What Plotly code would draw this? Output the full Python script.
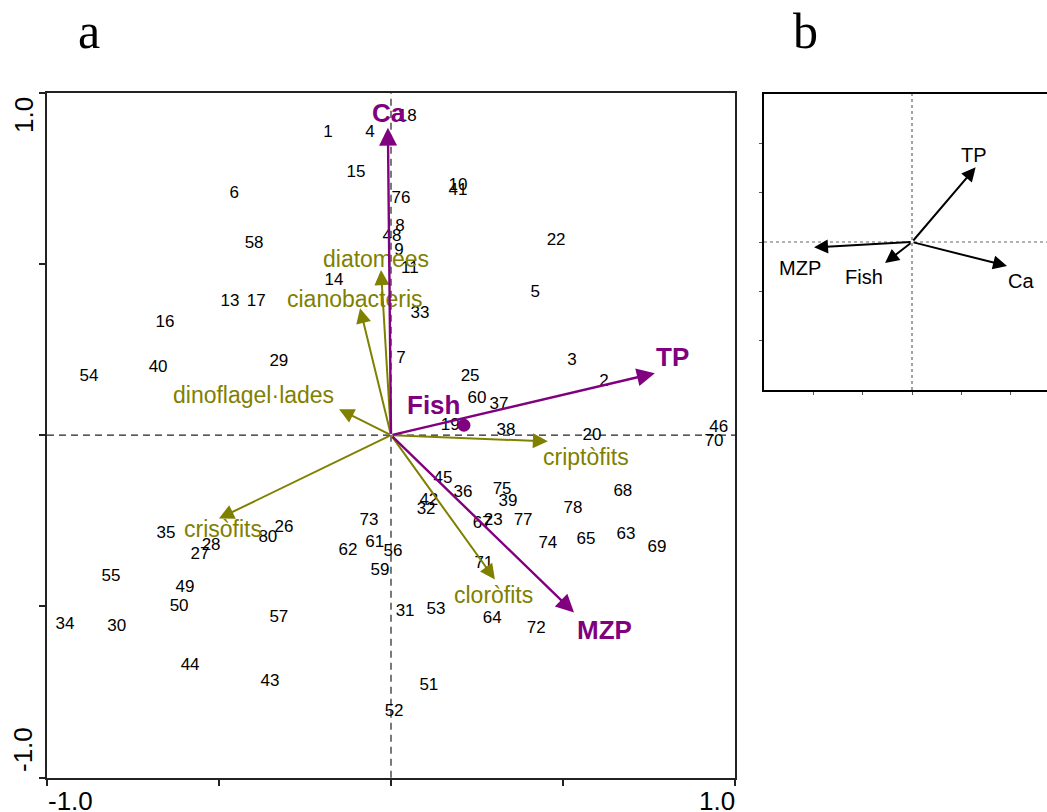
import plotly.graph_objects as go

# ---------------- data (panel a) ----------------
site_labels = ["24", "1", "4", "18", "15", "6", "76", "10", "41", "8", "48", "9", "58", "22",
               "11", "14", "5", "13", "17", "33", "16", "7", "29", "3", "54", "40", "25", "2",
               "60", "37", "19", "38", "20", "46", "70", "45", "36", "75", "39", "68", "42",
               "32", "78", "67", "23", "77", "73", "74", "65", "63", "69", "35", "26", "80",
               "28", "27", "61", "62", "56", "59", "71", "55", "49", "50", "31", "53", "64",
               "72", "34", "30", "57", "44", "43", "51", "52"]
site_x = [-0.788, -0.183, -0.061, 0.047, -0.102, -0.456, 0.029, 0.195, 0.195, 0.026, 0.003,
          0.023, -0.398, 0.480, 0.055, -0.166, 0.419, -0.468, -0.392, 0.084, -0.657, 0.029,
          -0.326, 0.526, -0.878, -0.677, 0.230, 0.619, 0.250, 0.314, 0.172, 0.334, 0.584,
          0.953, 0.939, 0.151, 0.209, 0.323, 0.340, 0.674, 0.110, 0.102, 0.529, 0.265,
          0.297, 0.384, -0.064, 0.456, 0.567, 0.683, 0.773, -0.654, -0.311, -0.358, -0.523,
          -0.555, -0.047, -0.125, 0.006, -0.032, 0.270, -0.814, -0.599, -0.616, 0.041,
          0.131, 0.294, 0.422, -0.948, -0.797, -0.326, -0.584, -0.352, 0.110, 0.009]
site_y = [1.006, 0.883, 0.883, 0.930, 0.766, 0.705, 0.690, 0.728, 0.713, 0.608, 0.579,
          0.538, 0.558, 0.567, 0.485, 0.450, 0.415, 0.389, 0.389, 0.354, 0.327, 0.222,
          0.213, 0.216, 0.170, 0.196, 0.170, 0.155, 0.105, 0.088, 0.029, 0.012, -0.003,
          0.023, -0.018, -0.126, -0.167, -0.158, -0.193, -0.164, -0.190, -0.219, -0.216,
          -0.260, -0.251, -0.251, -0.251, -0.316, -0.304, -0.292, -0.330, -0.287, -0.269,
          -0.298, -0.322, -0.348, -0.313, -0.336, -0.339, -0.395, -0.374, -0.412, -0.444,
          -0.500, -0.515, -0.509, -0.535, -0.564, -0.553, -0.558, -0.532, -0.673, -0.719,
          -0.731, -0.807]

env_names = ["Ca", "TP", "MZP"]
env_x = [-0.009, 0.767, 0.532]
env_y = [0.898, 0.181, -0.518]

fish_name = "Fish"
fish_x = [0.212]
fish_y = [0.029]

group_names = ["diatomees", "cianobacteris", "dinoflagel·lades", "criptòfits", "crisòfits", "cloròfits"]
group_x = [-0.029, -0.090, -0.151, 0.456, -0.500, 0.302]
group_y = [0.482, 0.371, 0.076, -0.018, -0.243, -0.421]

# ---------------- data (panel b) ----------------
b_names = ["TP", "MZP", "Fish", "Ca"]
b_x = [0.430, -0.662, -0.182, 0.642]
b_y = [0.505, -0.036, -0.142, -0.162]

# ---------------- styles ----------------
PURPLE = "#800080"
OLIVE = "#808000"
SANS = "Liberation Sans, Arial, sans-serif"
SERIF = "Liberation Serif, Times New Roman, serif"
W, H = 1047, 812

env_shift = {"Ca": (1, 15), "TP": (18, 16), "MZP": (30, -17)}
fish_shift = (-30, 20)
group_shift = {"diatomees": (-5, 11), "cianobacteris": (-5, 9), "dinoflagel·lades": (-86, 14),
               "criptòfits": (38, -16), "crisòfits": (4, -11), "cloròfits": (-1, -16)}
b_shift = {"TP": (-2, 12), "MZP": (-14, -21), "Fish": (-21, -14), "Ca": (14, -15)}

fig = go.Figure()

# site numbers
fig.add_trace(go.Scatter(x=site_x, y=site_y, mode="text", text=site_labels,
                         textposition="middle center",
                         textfont=dict(family=SANS, size=17, color="black"),
                         cliponaxis=False, hoverinfo="skip", showlegend=False,
                         xaxis="x", yaxis="y"))
# fish dot
fig.add_trace(go.Scatter(x=fish_x, y=fish_y, mode="markers",
                         marker=dict(size=13, color=PURPLE),
                         hoverinfo="skip", showlegend=False, xaxis="x", yaxis="y"))
# invisible helper trace for panel b axes
fig.add_trace(go.Scatter(x=b_x, y=b_y, mode="markers", marker=dict(size=1, opacity=0),
                         hoverinfo="skip", showlegend=False, xaxis="x2", yaxis="y2"))

ann = []
# group arrows (olive)
for n, gx, gy in zip(group_names, group_x, group_y):
    ann.append(dict(x=gx, y=gy, ax=0, ay=0, xref="x", yref="y", axref="x", ayref="y",
                    text="", showarrow=True, arrowhead=2, arrowsize=1.5, arrowwidth=2,
                    arrowcolor=OLIVE))
    sx, sy = group_shift[n]
    ann.append(dict(x=gx, y=gy, xref="x", yref="y", text=n, showarrow=False,
                    xanchor="center", yanchor="middle",
                    xshift=sx, yshift=sy, font=dict(family=SANS, size=23, color=OLIVE)))
# env arrows (purple)
for n, ex, ey in zip(env_names, env_x, env_y):
    ann.append(dict(x=ex, y=ey, ax=0, ay=0, xref="x", yref="y", axref="x", ayref="y",
                    text="", showarrow=True, arrowhead=2, arrowsize=1.5, arrowwidth=2.4,
                    arrowcolor=PURPLE))
    sx, sy = env_shift[n]
    ann.append(dict(x=ex, y=ey, xref="x", yref="y", text="<b>%s</b>" % n, showarrow=False,
                    xanchor="center", yanchor="middle",
                    xshift=sx, yshift=sy, font=dict(family=SANS, size=26, color=PURPLE)))
# fish label
ann.append(dict(x=fish_x[0], y=fish_y[0], xref="x", yref="y", text="<b>%s</b>" % fish_name,
                showarrow=False, xanchor="center", yanchor="middle",
                xshift=fish_shift[0], yshift=fish_shift[1],
                font=dict(family=SANS, size=26, color=PURPLE)))
# panel b arrows
for n, bx, by in zip(b_names, b_x, b_y):
    ann.append(dict(x=bx, y=by, ax=0, ay=0, xref="x2", yref="y2", axref="x2", ayref="y2",
                    text="", showarrow=True, arrowhead=2, arrowsize=1.4, arrowwidth=2,
                    arrowcolor="black"))
    sx, sy = b_shift[n]
    ann.append(dict(x=bx, y=by, xref="x2", yref="y2", text=n, showarrow=False,
                    xanchor="center", yanchor="middle",
                    xshift=sx, yshift=sy, font=dict(family=SANS, size=20, color="black")))

# axis end labels (panel a)
lab_font = dict(family=SANS, size=26, color="black")
def paper_text(px, py, txt, font, angle=0):
    return dict(x=px / W, y=1 - py / H, xref="paper", yref="paper", text=txt,
                textangle=angle, showarrow=False, xanchor="center", yanchor="middle",
                font=font)

ann.append(paper_text(24, 115, "1.0", lab_font, -90))
ann.append(paper_text(23, 750, "-1.0", lab_font, -90))
ann.append(paper_text(70, 801, "-1.0", lab_font))
ann.append(paper_text(717, 801, "1.0", lab_font))
# panel titles
title_font = dict(family=SERIF, size=50, color="black")
ann.append(paper_text(89, 31, "a", title_font))
ann.append(paper_text(805, 31, "b", title_font))

shapes = [
    dict(type="line", xref="x", yref="y domain", x0=0, x1=0, y0=0, y1=1,
         line=dict(color="#222222", width=1.2, dash="7px,5px"), layer="below"),
    dict(type="line", xref="x domain", yref="y", x0=0, x1=1, y0=0, y1=0,
         line=dict(color="#222222", width=1.2, dash="7px,5px"), layer="below"),
    dict(type="line", xref="x2", yref="y2 domain", x0=0, x1=0, y0=0, y1=1,
         line=dict(color="#666666", width=1.2, dash="dot"), layer="below"),
    dict(type="line", xref="x2 domain", yref="y2", x0=0, x1=1, y0=0, y1=0,
         line=dict(color="#666666", width=1.2, dash="dot"), layer="below"),
]

fig.update_layout(
    width=W, height=H, margin=dict(l=0, r=0, t=0, b=0),
    paper_bgcolor="white", plot_bgcolor="white", showlegend=False,
    annotations=ann, shapes=shapes,
    xaxis=dict(domain=[47 / W, 735 / W], range=[-1, 1], showgrid=False, zeroline=False,
               showline=True, linecolor="#222222", linewidth=2, mirror=True,
               ticks="outside", ticklen=6, tickwidth=1.5, tickcolor="#222222",
               tickvals=[-1, -0.5, 0, 0.5, 1], showticklabels=False, fixedrange=True),
    yaxis=dict(domain=[1 - 777.7 / H, 1 - 92.7 / H], range=[-1, 1], showgrid=False,
               zeroline=False, showline=True, linecolor="#222222", linewidth=2, mirror=True,
               ticks="outside", ticklen=6, tickwidth=1.5, tickcolor="#222222",
               tickvals=[-1, -0.5, 0, 0.5, 1], showticklabels=False, fixedrange=True),
    xaxis2=dict(domain=[764 / W, 1.0], range=[-1, (W - 912) / 148], showgrid=False,
                zeroline=False, showline=True, linecolor="black", linewidth=2, mirror=True,
                ticks="outside", ticklen=3, tickwidth=1, tickcolor="#555555",
                tickvals=[-2 / 3, -1 / 3, 0, 1 / 3, 2 / 3], showticklabels=False,
                anchor="y2", fixedrange=True),
    yaxis2=dict(domain=[1 - 390 / H, 1 - 94 / H], range=[-1, 1], showgrid=False,
                zeroline=False, showline=True, linecolor="black", linewidth=2, mirror=False,
                ticks="outside", ticklen=3, tickwidth=1, tickcolor="#555555",
                tickvals=[-2 / 3, -1 / 3, 0, 1 / 3, 2 / 3], showticklabels=False,
                anchor="x2", fixedrange=True),
)

fig.write_html("out.html")
